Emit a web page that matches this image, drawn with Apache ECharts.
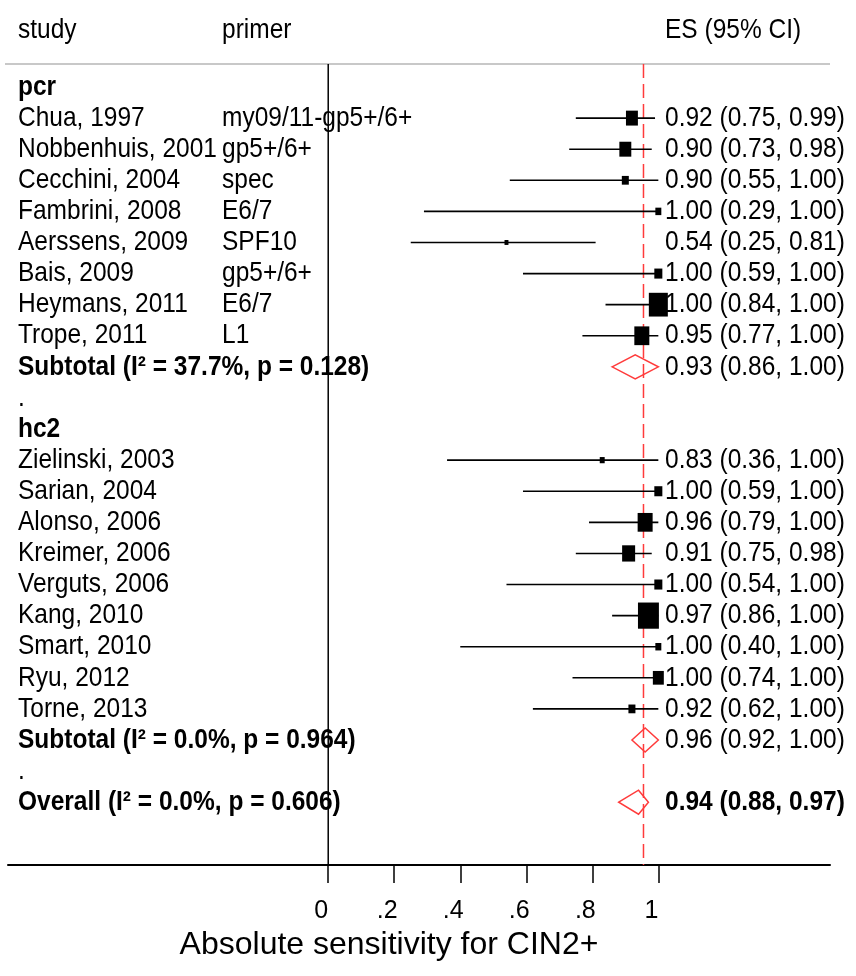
<!DOCTYPE html>
<html>
<head>
<meta charset="utf-8">
<script src="https://cdn.jsdelivr.net/npm/echarts@6/dist/echarts.min.js"></script>
<style>
  html, body { margin: 0; padding: 0; background: #fff; }
  #chart { width: 856px; height: 976px; }
</style>
</head>
<body>
<div id="chart"></div>
<script>
// ---- PCR-based studies ----
const pcrStudies = ['Chua, 1997', 'Nobbenhuis, 2001', 'Cecchini, 2004', 'Fambrini, 2008',
                    'Aerssens, 2009', 'Bais, 2009', 'Heymans, 2011', 'Trope, 2011'];
const pcrPrimers = ['my09/11-gp5+/6+', 'gp5+/6+', 'spec', 'E6/7', 'SPF10', 'gp5+/6+', 'E6/7', 'L1'];
const pcrES      = [0.92, 0.90, 0.90, 1.00, 0.54, 1.00, 1.00, 0.95];
const pcrLow     = [0.75, 0.73, 0.55, 0.29, 0.25, 0.59, 0.84, 0.77];
const pcrHigh    = [0.99, 0.98, 1.00, 1.00, 0.81, 1.00, 1.00, 1.00];
const pcrWeight  = [6.4, 6.4, 2.2, 1.6, 0.7, 2.9, 16.2, 10.1];
const pcrSubtotal = { label: 'Subtotal (I\u00B2 = 37.7%, p = 0.128)', es: 0.93, lo: 0.86, hi: 1.00 };

// ---- Hybrid Capture 2 studies ----
const hc2Studies = ['Zielinski, 2003', 'Sarian, 2004', 'Alonso, 2006', 'Kreimer, 2006', 'Verguts, 2006',
                    'Kang, 2010', 'Smart, 2010', 'Ryu, 2012', 'Torne, 2013'];
const hc2ES      = [0.83, 1.00, 0.96, 0.91, 1.00, 0.97, 1.00, 1.00, 0.92];
const hc2Low     = [0.36, 0.59, 0.79, 0.75, 0.54, 0.86, 0.40, 0.74, 0.62];
const hc2High    = [1.00, 1.00, 1.00, 0.98, 1.00, 1.00, 1.00, 1.00, 1.00];
const hc2Weight  = [1.1, 2.9, 10.1, 7.6, 2.9, 19.7, 1.6, 5.4, 2.2];
const hc2Subtotal = { label: 'Subtotal (I\u00B2 = 0.0%, p = 0.964)', es: 0.96, lo: 0.92, hi: 1.00 };

const overall = { label: 'Overall (I\u00B2 = 0.0%, p = 0.606)', es: 0.94, lo: 0.88, hi: 0.97 };
const refLine = 0.955;

const tickValues = [0, 0.2, 0.4, 0.6, 0.8, 1];
const tickLabels = ['0', '.2', '.4', '.6', '.8', '1'];
const headers = ['study', 'primer', 'ES (95% CI)'];
const axisTitle = 'Absolute sensitivity for CIN2+';

// ---- layout / style ----
const FONT = '"Liberation Sans", Arial, sans-serif';
const FS = 24.5;
const STRETCH = 1.14;            // tall, condensed-looking lettering
const COL_STUDY = 18, COL_PRIMER = 222, COL_ES = 665;
const RED = '#ff3b3b';

// Build the table rows in display order
const rows = [];
function addGroup(name, studies, primers, es, lo, hi, w, sub) {
  rows.push({ kind: 'group', label: name });
  studies.forEach((s, i) => rows.push({ kind: 'study', label: s, primer: primers ? primers[i] : '',
    es: es[i], lo: lo[i], hi: hi[i], w: w[i] }));
  rows.push(Object.assign({ kind: 'subtotal' }, sub));
  rows.push({ kind: 'dot', label: '.' });
}
addGroup('pcr', pcrStudies, pcrPrimers, pcrES, pcrLow, pcrHigh, pcrWeight, pcrSubtotal);
addGroup('hc2', hc2Studies, null, hc2ES, hc2Low, hc2High, hc2Weight, hc2Subtotal);
rows.push(Object.assign({ kind: 'overall' }, overall));
rows.forEach((r, i) => { r.idx = i; });

const fmt = v => v.toFixed(2);

function txt(x, y, text, bold) {
  return {
    type: 'text', x: x, y: y, scaleY: STRETCH,
    style: { text: text, x: 0, y: 0, verticalAlign: 'middle', align: 'left',
             font: (bold ? 'bold ' : '') + FS + 'px ' + FONT, fill: '#000' }
  };
}

function renderRow(params, api) {
  const r = rows[params.dataIndex];
  const y = api.coord([0, r.idx])[1];
  const kids = [];
  const bold = r.kind === 'group' || r.kind === 'subtotal' || r.kind === 'overall';
  kids.push(txt(COL_STUDY, y, r.label, bold));
  if (r.primer) kids.push(txt(COL_PRIMER, y, r.primer, false));
  if (r.es != null) {
    kids.push(txt(COL_ES, y, fmt(r.es) + ' (' + fmt(r.lo) + ', ' + fmt(r.hi) + ')', r.kind === 'overall'));
    const xl = api.coord([r.lo, r.idx])[0];
    const xh = api.coord([r.hi, r.idx])[0];
    const xe = api.coord([r.es, r.idx])[0];
    if (r.kind === 'study') {
      kids.push({ type: 'line', shape: { x1: xl, y1: y, x2: xh, y2: y },
                  style: { stroke: '#000', lineWidth: 1.6 } });
      const bw = 4.72 * Math.sqrt(r.w), bh = bw * 1.25;
      kids.push({ type: 'rect', shape: { x: xe - bw / 2, y: y - bh / 2, width: bw, height: bh },
                  style: { fill: '#000' } });
    } else {
      const h = 12;
      kids.push({ type: 'polygon', shape: { points: [[xl, y], [xe, y - h], [xh, y], [xe, y + h]] },
                  style: { fill: 'none', stroke: RED, lineWidth: 1.5 } });
    }
  }
  return { type: 'group', children: kids };
}

const Y_MIN = -0.74, Y_MAX = 25.02;

function headerText(x, text) {
  return { type: 'text', x: x, y: 30, scaleY: STRETCH,
           style: { text: text, x: 0, y: 0, verticalAlign: 'middle', font: FS + 'px ' + FONT, fill: '#000' } };
}

const chart = echarts.init(document.getElementById('chart'), null, { renderer: 'canvas' });
chart.setOption({
  backgroundColor: '#fff',
  animation: false,
  grid: { left: 8, right: 26, top: 64, bottom: 111, containLabel: false },
  xAxis: {
    type: 'value', min: -0.97, max: 1.52,
    axisLine: { show: true, onZero: false, lineStyle: { color: '#000', width: 2 } },
    axisTick: { show: true, customValues: tickValues, length: 18, lineStyle: { color: '#000', width: 1.5 } },
    axisLabel: {
      customValues: tickValues, margin: 34, color: '#000',
      fontFamily: FONT, fontSize: 25, padding: [0, 14, 0, 0],
      formatter: v => tickLabels[tickValues.findIndex(t => Math.abs(t - v) < 1e-9)]
    },
    splitLine: { show: false },
    name: axisTitle, nameLocation: 'middle', nameGap: 64,
    nameTextStyle: { fontFamily: FONT, fontSize: 32, color: '#000', padding: [0, 60, 0, 0] }
  },
  yAxis: { type: 'value', inverse: true, min: Y_MIN, max: Y_MAX, show: false },
  graphic: [
    headerText(COL_STUDY, headers[0]),
    headerText(COL_PRIMER, headers[1]),
    headerText(COL_ES, headers[2]),
    { type: 'line', shape: { x1: 5, y1: 64, x2: 830, y2: 64 }, style: { stroke: '#c8c8c8', lineWidth: 2 } }
  ],
  series: [
    { // zero line and dashed reference line
      type: 'custom', clip: false, silent: true, z: 1,
      data: [[refLine, 0]],
      renderItem: (params, api) => {
        const top = api.coord([refLine, Y_MIN]), bot = api.coord([refLine, Y_MAX]);
        const z0 = api.coord([0, Y_MIN]), z1 = api.coord([0, Y_MAX]);
        return { type: 'group', children: [
          { type: 'line', shape: { x1: z0[0], y1: z0[1], x2: z1[0], y2: z1[1] },
            style: { stroke: '#000', lineWidth: 1.5 } },
          { type: 'line', shape: { x1: top[0], y1: top[1], x2: bot[0], y2: bot[1] },
            style: { stroke: RED, lineWidth: 1.5, lineDash: [14, 6] } }
        ] };
      }
    },
    {
      type: 'custom', clip: false, silent: true, z: 2,
      data: rows.map(r => [r.es != null ? r.es : 0, r.idx]),
      renderItem: renderRow
    }
  ]
});
</script>
</body>
</html>
